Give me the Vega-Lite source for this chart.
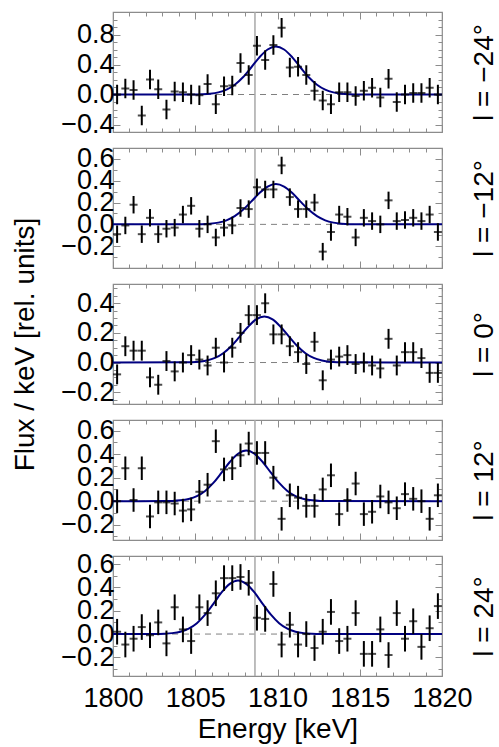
{
  "$schema": "https://vega.github.io/schema/vega-lite/v6.json",
  "padding": {"left": 11, "top": 10, "right": 5, "bottom": 0},
  "background": "white",
  "config": {
    "view": {"stroke": "#8c8c8c", "strokeWidth": 1.2},
    "axis": {"grid": false, "domain": false, "labelFont": "Liberation Sans", "labelFontSize": 27, "labelColor": "black", "titleFont": "Liberation Sans", "titleFontSize": 28, "titleFontWeight": "normal", "titleColor": "black", "tickColor": "#8c8c8c", "tickWidth": 1, "labelPadding": 6, "labelOverlap": false, "labelFlush": false}
  },
  "datasets": {
    "pts": [
      {"p":1,"e":1800.25,"v":0.0,"s":0.13},{"p":1,"e":1800.75,"v":0.08,"s":0.13},{"p":1,"e":1801.25,"v":0.06,"s":0.13},{"p":1,"e":1801.75,"v":-0.28,"s":0.13},{"p":1,"e":1802.25,"v":0.2,"s":0.13},{"p":1,"e":1802.75,"v":0.07,"s":0.13},{"p":1,"e":1803.25,"v":-0.2,"s":0.13},{"p":1,"e":1803.75,"v":0.04,"s":0.13},{"p":1,"e":1804.25,"v":0.03,"s":0.13},{"p":1,"e":1804.75,"v":0.0,"s":0.13},
      {"p":1,"e":1805.25,"v":-0.01,"s":0.13},{"p":1,"e":1805.75,"v":0.14,"s":0.13},{"p":1,"e":1806.25,"v":-0.13,"s":0.13},{"p":1,"e":1806.75,"v":0.11,"s":0.13},{"p":1,"e":1807.25,"v":0.12,"s":0.13},{"p":1,"e":1807.75,"v":0.42,"s":0.13},{"p":1,"e":1808.25,"v":0.26,"s":0.13},{"p":1,"e":1808.75,"v":0.65,"s":0.13},{"p":1,"e":1809.25,"v":0.46,"s":0.13},{"p":1,"e":1809.75,"v":0.66,"s":0.13},
      {"p":1,"e":1810.25,"v":0.89,"s":0.13},{"p":1,"e":1810.75,"v":0.36,"s":0.13},{"p":1,"e":1811.25,"v":0.37,"s":0.13},{"p":1,"e":1811.75,"v":0.26,"s":0.13},{"p":1,"e":1812.25,"v":0.05,"s":0.13},{"p":1,"e":1812.75,"v":-0.08,"s":0.13},{"p":1,"e":1813.25,"v":-0.13,"s":0.13},{"p":1,"e":1813.75,"v":0.03,"s":0.13},{"p":1,"e":1814.25,"v":0.03,"s":0.13},{"p":1,"e":1814.75,"v":-0.02,"s":0.13},
      {"p":1,"e":1815.25,"v":0.05,"s":0.13},{"p":1,"e":1815.75,"v":0.09,"s":0.13},{"p":1,"e":1816.25,"v":-0.04,"s":0.13},{"p":1,"e":1816.75,"v":0.21,"s":0.13},{"p":1,"e":1817.25,"v":-0.1,"s":0.13},{"p":1,"e":1817.75,"v":0.0,"s":0.13},{"p":1,"e":1818.25,"v":0.02,"s":0.13},{"p":1,"e":1818.75,"v":0.02,"s":0.13},{"p":1,"e":1819.25,"v":0.09,"s":0.13},{"p":1,"e":1819.75,"v":0.0,"s":0.13},

      {"p":2,"e":1800.25,"v":-0.09,"s":0.08},{"p":2,"e":1800.75,"v":-0.01,"s":0.08},{"p":2,"e":1801.25,"v":0.18,"s":0.08},{"p":2,"e":1801.75,"v":-0.09,"s":0.08},{"p":2,"e":1802.25,"v":0.06,"s":0.08},{"p":2,"e":1802.75,"v":-0.09,"s":0.08},{"p":2,"e":1803.25,"v":-0.04,"s":0.08},{"p":2,"e":1803.75,"v":-0.03,"s":0.08},{"p":2,"e":1804.25,"v":0.09,"s":0.08},{"p":2,"e":1804.75,"v":0.17,"s":0.08},
      {"p":2,"e":1805.25,"v":-0.04,"s":0.08},{"p":2,"e":1805.75,"v":0.0,"s":0.08},{"p":2,"e":1806.25,"v":-0.12,"s":0.08},{"p":2,"e":1806.75,"v":-0.03,"s":0.08},{"p":2,"e":1807.25,"v":-0.01,"s":0.08},{"p":2,"e":1807.75,"v":0.15,"s":0.08},{"p":2,"e":1808.25,"v":0.14,"s":0.08},{"p":2,"e":1808.75,"v":0.34,"s":0.08},{"p":2,"e":1809.25,"v":0.32,"s":0.08},{"p":2,"e":1809.75,"v":0.32,"s":0.08},
      {"p":2,"e":1810.25,"v":0.54,"s":0.08},{"p":2,"e":1810.75,"v":0.25,"s":0.08},{"p":2,"e":1811.25,"v":0.14,"s":0.08},{"p":2,"e":1811.75,"v":0.14,"s":0.08},{"p":2,"e":1812.25,"v":0.2,"s":0.08},{"p":2,"e":1812.75,"v":-0.25,"s":0.08},{"p":2,"e":1813.25,"v":-0.07,"s":0.08},{"p":2,"e":1813.75,"v":0.09,"s":0.08},{"p":2,"e":1814.25,"v":0.07,"s":0.08},{"p":2,"e":1814.75,"v":-0.12,"s":0.08},
      {"p":2,"e":1815.25,"v":0.06,"s":0.08},{"p":2,"e":1815.75,"v":0.03,"s":0.08},{"p":2,"e":1816.25,"v":0.0,"s":0.08},{"p":2,"e":1816.75,"v":0.22,"s":0.08},{"p":2,"e":1817.25,"v":0.03,"s":0.08},{"p":2,"e":1817.75,"v":0.04,"s":0.08},{"p":2,"e":1818.25,"v":0.06,"s":0.08},{"p":2,"e":1818.75,"v":0.03,"s":0.08},{"p":2,"e":1819.25,"v":0.09,"s":0.08},{"p":2,"e":1819.75,"v":-0.07,"s":0.08},

      {"p":3,"e":1800.25,"v":-0.08,"s":0.067},{"p":3,"e":1800.75,"v":0.11,"s":0.067},{"p":3,"e":1801.25,"v":0.08,"s":0.067},{"p":3,"e":1801.75,"v":0.08,"s":0.067},{"p":3,"e":1802.25,"v":-0.1,"s":0.067},{"p":3,"e":1802.75,"v":-0.15,"s":0.067},{"p":3,"e":1803.25,"v":0.01,"s":0.067},{"p":3,"e":1803.75,"v":-0.06,"s":0.067},{"p":3,"e":1804.25,"v":0.0,"s":0.067},{"p":3,"e":1804.75,"v":0.05,"s":0.067},
      {"p":3,"e":1805.25,"v":0.02,"s":0.067},{"p":3,"e":1805.75,"v":-0.02,"s":0.067},{"p":3,"e":1806.25,"v":0.1,"s":0.067},{"p":3,"e":1806.75,"v":0.0,"s":0.067},{"p":3,"e":1807.25,"v":0.1,"s":0.067},{"p":3,"e":1807.75,"v":0.2,"s":0.067},{"p":3,"e":1808.25,"v":0.32,"s":0.067},{"p":3,"e":1808.75,"v":0.32,"s":0.067},{"p":3,"e":1809.25,"v":0.4,"s":0.067},{"p":3,"e":1809.75,"v":0.19,"s":0.067},
      {"p":3,"e":1810.25,"v":0.19,"s":0.067},{"p":3,"e":1810.75,"v":0.11,"s":0.067},{"p":3,"e":1811.25,"v":0.07,"s":0.067},{"p":3,"e":1811.75,"v":-0.01,"s":0.067},{"p":3,"e":1812.25,"v":0.14,"s":0.067},{"p":3,"e":1812.75,"v":-0.12,"s":0.067},{"p":3,"e":1813.25,"v":0.02,"s":0.067},{"p":3,"e":1813.75,"v":0.04,"s":0.067},{"p":3,"e":1814.25,"v":0.05,"s":0.067},{"p":3,"e":1814.75,"v":-0.01,"s":0.067},
      {"p":3,"e":1815.25,"v":0.0,"s":0.067},{"p":3,"e":1815.75,"v":-0.02,"s":0.067},{"p":3,"e":1816.25,"v":-0.04,"s":0.067},{"p":3,"e":1816.75,"v":0.16,"s":0.067},{"p":3,"e":1817.25,"v":-0.02,"s":0.067},{"p":3,"e":1817.75,"v":0.07,"s":0.067},{"p":3,"e":1818.25,"v":0.07,"s":0.067},{"p":3,"e":1818.75,"v":0.03,"s":0.067},{"p":3,"e":1819.25,"v":-0.07,"s":0.067},{"p":3,"e":1819.75,"v":-0.07,"s":0.067},

      {"p":4,"e":1800.25,"v":0.0,"s":0.1},{"p":4,"e":1800.75,"v":0.28,"s":0.1},{"p":4,"e":1801.25,"v":0.01,"s":0.1},{"p":4,"e":1801.75,"v":0.28,"s":0.1},{"p":4,"e":1802.25,"v":-0.13,"s":0.1},{"p":4,"e":1802.75,"v":-0.01,"s":0.1},{"p":4,"e":1803.25,"v":-0.01,"s":0.1},{"p":4,"e":1803.75,"v":-0.02,"s":0.1},{"p":4,"e":1804.25,"v":-0.08,"s":0.1},{"p":4,"e":1804.75,"v":-0.07,"s":0.1},
      {"p":4,"e":1805.25,"v":0.08,"s":0.1},{"p":4,"e":1805.75,"v":0.14,"s":0.1},{"p":4,"e":1806.25,"v":0.51,"s":0.1},{"p":4,"e":1806.75,"v":0.27,"s":0.1},{"p":4,"e":1807.25,"v":0.28,"s":0.1},{"p":4,"e":1807.75,"v":0.39,"s":0.1},{"p":4,"e":1808.25,"v":0.49,"s":0.1},{"p":4,"e":1808.75,"v":0.41,"s":0.1},{"p":4,"e":1809.25,"v":0.41,"s":0.1},{"p":4,"e":1809.75,"v":0.2,"s":0.1},
      {"p":4,"e":1810.25,"v":-0.15,"s":0.1},{"p":4,"e":1810.75,"v":0.05,"s":0.1},{"p":4,"e":1811.25,"v":0.03,"s":0.1},{"p":4,"e":1811.75,"v":-0.04,"s":0.1},{"p":4,"e":1812.25,"v":-0.04,"s":0.1},{"p":4,"e":1812.75,"v":0.1,"s":0.1},{"p":4,"e":1813.25,"v":0.22,"s":0.1},{"p":4,"e":1813.75,"v":-0.11,"s":0.1},{"p":4,"e":1814.25,"v":0.01,"s":0.1},{"p":4,"e":1814.75,"v":0.15,"s":0.1},
      {"p":4,"e":1815.25,"v":-0.11,"s":0.1},{"p":4,"e":1815.75,"v":-0.09,"s":0.1},{"p":4,"e":1816.25,"v":0.04,"s":0.1},{"p":4,"e":1816.75,"v":-0.01,"s":0.1},{"p":4,"e":1817.25,"v":-0.06,"s":0.1},{"p":4,"e":1817.75,"v":0.06,"s":0.1},{"p":4,"e":1818.25,"v":0.02,"s":0.1},{"p":4,"e":1818.75,"v":0.0,"s":0.1},{"p":4,"e":1819.25,"v":-0.15,"s":0.1},{"p":4,"e":1819.75,"v":0.05,"s":0.1},

      {"p":5,"e":1800.25,"v":0.02,"s":0.11},{"p":5,"e":1800.75,"v":-0.09,"s":0.11},{"p":5,"e":1801.25,"v":-0.04,"s":0.11},{"p":5,"e":1801.75,"v":0.06,"s":0.11},{"p":5,"e":1802.25,"v":-0.01,"s":0.11},{"p":5,"e":1802.75,"v":0.1,"s":0.11},{"p":5,"e":1803.25,"v":-0.08,"s":0.11},{"p":5,"e":1803.75,"v":0.23,"s":0.11},{"p":5,"e":1804.25,"v":0.04,"s":0.11},{"p":5,"e":1804.75,"v":-0.06,"s":0.11},
      {"p":5,"e":1805.25,"v":0.23,"s":0.11},{"p":5,"e":1805.75,"v":0.18,"s":0.11},{"p":5,"e":1806.25,"v":0.35,"s":0.11},{"p":5,"e":1806.75,"v":0.48,"s":0.11},{"p":5,"e":1807.25,"v":0.48,"s":0.11},{"p":5,"e":1807.75,"v":0.49,"s":0.11},{"p":5,"e":1808.25,"v":0.44,"s":0.11},{"p":5,"e":1808.75,"v":0.14,"s":0.11},{"p":5,"e":1809.25,"v":0.13,"s":0.11},{"p":5,"e":1809.75,"v":0.43,"s":0.11},
      {"p":5,"e":1810.25,"v":-0.09,"s":0.11},{"p":5,"e":1810.75,"v":0.08,"s":0.11},{"p":5,"e":1811.25,"v":-0.09,"s":0.11},{"p":5,"e":1811.75,"v":0.0,"s":0.11},{"p":5,"e":1812.25,"v":-0.12,"s":0.11},{"p":5,"e":1812.75,"v":0.02,"s":0.11},{"p":5,"e":1813.25,"v":0.19,"s":0.11},{"p":5,"e":1813.75,"v":-0.06,"s":0.11},{"p":5,"e":1814.25,"v":-0.04,"s":0.11},{"p":5,"e":1814.75,"v":0.18,"s":0.11},
      {"p":5,"e":1815.25,"v":-0.17,"s":0.11},{"p":5,"e":1815.75,"v":-0.17,"s":0.11},{"p":5,"e":1816.25,"v":0.04,"s":0.11},{"p":5,"e":1816.75,"v":-0.18,"s":0.11},{"p":5,"e":1817.25,"v":0.18,"s":0.11},{"p":5,"e":1817.75,"v":-0.04,"s":0.11},{"p":5,"e":1818.25,"v":0.11,"s":0.11},{"p":5,"e":1818.75,"v":-0.11,"s":0.11},{"p":5,"e":1819.25,"v":0.05,"s":0.11},{"p":5,"e":1819.75,"v":0.24,"s":0.11}
    ],
    "fit": [
      {"p":1,"e":1800,"f":0},{"p":1,"e":1804.9,"f":0.001},{"p":1,"e":1805.4,"f":0.004},{"p":1,"e":1805.9,"f":0.011},{"p":1,"e":1806.4,"f":0.028},{"p":1,"e":1806.9,"f":0.064},{"p":1,"e":1807.4,"f":0.13},{"p":1,"e":1807.9,"f":0.23},{"p":1,"e":1808.4,"f":0.36},{"p":1,"e":1808.9,"f":0.496},{"p":1,"e":1809.4,"f":0.6},{"p":1,"e":1809.9,"f":0.64},{"p":1,"e":1810.4,"f":0.6},{"p":1,"e":1810.9,"f":0.496},{"p":1,"e":1811.4,"f":0.36},{"p":1,"e":1811.9,"f":0.23},{"p":1,"e":1812.4,"f":0.13},{"p":1,"e":1812.9,"f":0.064},{"p":1,"e":1813.4,"f":0.028},{"p":1,"e":1813.9,"f":0.011},{"p":1,"e":1814.4,"f":0.004},{"p":1,"e":1814.9,"f":0.001},{"p":1,"e":1820,"f":0},
      {"p":2,"e":1800,"f":0},{"p":2,"e":1804.9,"f":0.001},{"p":2,"e":1805.4,"f":0.002},{"p":2,"e":1805.9,"f":0.006},{"p":2,"e":1806.4,"f":0.016},{"p":2,"e":1806.9,"f":0.037},{"p":2,"e":1807.4,"f":0.075},{"p":2,"e":1807.9,"f":0.133},{"p":2,"e":1808.4,"f":0.208},{"p":2,"e":1808.9,"f":0.287},{"p":2,"e":1809.4,"f":0.347},{"p":2,"e":1809.9,"f":0.37},{"p":2,"e":1810.4,"f":0.347},{"p":2,"e":1810.9,"f":0.287},{"p":2,"e":1811.4,"f":0.208},{"p":2,"e":1811.9,"f":0.133},{"p":2,"e":1812.4,"f":0.075},{"p":2,"e":1812.9,"f":0.037},{"p":2,"e":1813.4,"f":0.016},{"p":2,"e":1813.9,"f":0.006},{"p":2,"e":1814.4,"f":0.002},{"p":2,"e":1814.9,"f":0.001},{"p":2,"e":1820,"f":0},
      {"p":3,"e":1800,"f":0},{"p":3,"e":1804.2,"f":0.001},{"p":3,"e":1804.7,"f":0.002},{"p":3,"e":1805.2,"f":0.005},{"p":3,"e":1805.7,"f":0.014},{"p":3,"e":1806.2,"f":0.031},{"p":3,"e":1806.7,"f":0.063},{"p":3,"e":1807.2,"f":0.112},{"p":3,"e":1807.7,"f":0.175},{"p":3,"e":1808.2,"f":0.24},{"p":3,"e":1808.7,"f":0.291},{"p":3,"e":1809.2,"f":0.31},{"p":3,"e":1809.7,"f":0.291},{"p":3,"e":1810.2,"f":0.24},{"p":3,"e":1810.7,"f":0.175},{"p":3,"e":1811.2,"f":0.112},{"p":3,"e":1811.7,"f":0.063},{"p":3,"e":1812.2,"f":0.031},{"p":3,"e":1812.7,"f":0.014},{"p":3,"e":1813.2,"f":0.005},{"p":3,"e":1813.7,"f":0.002},{"p":3,"e":1814.2,"f":0.001},{"p":3,"e":1820,"f":0},
      {"p":4,"e":1800,"f":0},{"p":4,"e":1803.1,"f":0.001},{"p":4,"e":1803.6,"f":0.002},{"p":4,"e":1804.1,"f":0.007},{"p":4,"e":1804.6,"f":0.019},{"p":4,"e":1805.1,"f":0.043},{"p":4,"e":1805.6,"f":0.087},{"p":4,"e":1806.1,"f":0.155},{"p":4,"e":1806.6,"f":0.242},{"p":4,"e":1807.1,"f":0.333},{"p":4,"e":1807.6,"f":0.403},{"p":4,"e":1808.1,"f":0.43},{"p":4,"e":1808.6,"f":0.403},{"p":4,"e":1809.1,"f":0.333},{"p":4,"e":1809.6,"f":0.242},{"p":4,"e":1810.1,"f":0.155},{"p":4,"e":1810.6,"f":0.087},{"p":4,"e":1811.1,"f":0.043},{"p":4,"e":1811.6,"f":0.019},{"p":4,"e":1812.1,"f":0.007},{"p":4,"e":1812.6,"f":0.002},{"p":4,"e":1813.1,"f":0.001},{"p":4,"e":1820,"f":0},
      {"p":5,"e":1800,"f":0},{"p":5,"e":1802.6,"f":0.001},{"p":5,"e":1803.1,"f":0.003},{"p":5,"e":1803.6,"f":0.008},{"p":5,"e":1804.1,"f":0.02},{"p":5,"e":1804.6,"f":0.046},{"p":5,"e":1805.1,"f":0.093},{"p":5,"e":1805.6,"f":0.166},{"p":5,"e":1806.1,"f":0.259},{"p":5,"e":1806.6,"f":0.357},{"p":5,"e":1807.1,"f":0.431},{"p":5,"e":1807.6,"f":0.46},{"p":5,"e":1808.1,"f":0.431},{"p":5,"e":1808.6,"f":0.357},{"p":5,"e":1809.1,"f":0.259},{"p":5,"e":1809.6,"f":0.166},{"p":5,"e":1810.1,"f":0.093},{"p":5,"e":1810.6,"f":0.046},{"p":5,"e":1811.1,"f":0.02},{"p":5,"e":1811.6,"f":0.008},{"p":5,"e":1812.1,"f":0.003},{"p":5,"e":1812.6,"f":0.001},{"p":5,"e":1820,"f":0}
    ]
  },
  "spacing": 16,
  "bounds": "flush",
  "vconcat": [
    {
      "width": 329, "height": 120,
      "layer": [
        {"data": {"values": [{}]}, "mark": {"type": "rule", "color": "#808080", "strokeDash": [6, 5], "strokeWidth": 1}, "encoding": {"y": {"datum": 0, "type": "quantitative", "scale": {"domain": [-0.5, 1.1], "nice": false, "zero": false}, "axis": null}}},
        {"data": {"values": [{}]}, "mark": {"type": "rule", "color": "#a8a8a8", "strokeWidth": 1.5}, "encoding": {"x": {"datum": 1808.63, "type": "quantitative", "scale": {"domain": [1800, 1820], "nice": false}, "axis": null}}},
        {"data": {"name": "fit"}, "transform": [{"filter": "datum.p == 1"}], "mark": {"type": "line", "color": "#000080", "strokeWidth": 2, "interpolate": "monotone"},
         "encoding": {"x": {"field": "e", "type": "quantitative", "scale": {"domain": [1800, 1820], "nice": false}, "axis": {"orient": "bottom", "values": [1801,1802,1803,1804,1806,1807,1808,1809,1811,1812,1813,1814,1816,1817,1818,1819], "labels": false, "tickSize": -4, "title": null}},
                      "y": {"field": "f", "type": "quantitative", "scale": {"domain": [-0.5, 1.1], "nice": false, "zero": false}, "axis": {"orient": "left", "values": [-0.3,-0.2,-0.1,0.1,0.2,0.3,0.5,0.6,0.7,0.9,1.0], "labels": false, "tickSize": -4, "title": null}}}},
        {"data": {"name": "pts"}, "transform": [{"filter": "datum.p == 1"}], "mark": {"type": "errorbar", "color": "black", "thickness": 2},
         "encoding": {"x": {"field": "e", "type": "quantitative", "scale": {"domain": [1800, 1820], "nice": false}, "axis": {"orient": "bottom", "values": [1800,1805,1810,1815,1820], "labels": false, "tickSize": -7, "title": null}},
                      "y": {"field": "v", "type": "quantitative", "scale": {"domain": [-0.5, 1.1], "nice": false, "zero": false}, "axis": {"orient": "left", "values": [-0.4,0,0.4,0.8], "format": ".1f", "tickSize": -7, "title": null}},
                      "yError": {"field": "s"}}},
        {"data": {"name": "pts"}, "transform": [{"filter": "datum.p == 1"}], "mark": {"type": "tick", "orient": "horizontal", "size": 8, "thickness": 2, "color": "black"},
         "encoding": {"x": {"field": "e", "type": "quantitative", "scale": {"domain": [1800, 1820], "nice": false}, "axis": {"orient": "top", "values": [1800,1805,1810,1815,1820], "labels": false, "tickSize": -7, "title": null}},
                      "y": {"field": "v", "type": "quantitative", "scale": {"domain": [-0.5, 1.1], "nice": false, "zero": false}, "axis": {"orient": "right", "values": [-0.4,0,0.4,0.8], "labels": false, "tickSize": -7, "title": "l = −24°", "titleAngle": 270, "titlePadding": 56}}}},
        {"data": {"name": "pts"}, "transform": [{"filter": "datum.p == 1"}], "mark": {"type": "point", "opacity": 0},
         "encoding": {"x": {"field": "e", "type": "quantitative", "scale": {"domain": [1800, 1820], "nice": false}, "axis": {"orient": "top", "values": [1801,1802,1803,1804,1806,1807,1808,1809,1811,1812,1813,1814,1816,1817,1818,1819], "labels": false, "tickSize": -4, "title": null}},
                      "y": {"field": "v", "type": "quantitative", "scale": {"domain": [-0.5, 1.1], "nice": false, "zero": false}, "axis": {"orient": "right", "values": [-0.3,-0.2,-0.1,0.1,0.2,0.3,0.5,0.6,0.7,0.9,1.0], "labels": false, "tickSize": -4, "title": null}}}}
      ],
      "resolve": {"axis": {"x": "independent", "y": "independent"}}
    },
    {
      "width": 329, "height": 120,
      "layer": [
        {"data": {"values": [{}]}, "mark": {"type": "rule", "color": "#808080", "strokeDash": [6, 5], "strokeWidth": 1}, "encoding": {"y": {"datum": 0, "type": "quantitative", "scale": {"domain": [-0.4, 0.7], "nice": false, "zero": false}, "axis": null}}},
        {"data": {"values": [{}]}, "mark": {"type": "rule", "color": "#a8a8a8", "strokeWidth": 1.5}, "encoding": {"x": {"datum": 1808.63, "type": "quantitative", "scale": {"domain": [1800, 1820], "nice": false}, "axis": null}}},
        {"data": {"name": "fit"}, "transform": [{"filter": "datum.p == 2"}], "mark": {"type": "line", "color": "#000080", "strokeWidth": 2, "interpolate": "monotone"},
         "encoding": {"x": {"field": "e", "type": "quantitative", "scale": {"domain": [1800, 1820], "nice": false}, "axis": {"orient": "bottom", "values": [1801,1802,1803,1804,1806,1807,1808,1809,1811,1812,1813,1814,1816,1817,1818,1819], "labels": false, "tickSize": -4, "title": null}},
                      "y": {"field": "f", "type": "quantitative", "scale": {"domain": [-0.4, 0.7], "nice": false, "zero": false}, "axis": {"orient": "left", "values": [-0.3,-0.1,0.1,0.3,0.5], "labels": false, "tickSize": -4, "title": null}}}},
        {"data": {"name": "pts"}, "transform": [{"filter": "datum.p == 2"}], "mark": {"type": "errorbar", "color": "black", "thickness": 2},
         "encoding": {"x": {"field": "e", "type": "quantitative", "scale": {"domain": [1800, 1820], "nice": false}, "axis": {"orient": "bottom", "values": [1800,1805,1810,1815,1820], "labels": false, "tickSize": -7, "title": null}},
                      "y": {"field": "v", "type": "quantitative", "scale": {"domain": [-0.4, 0.7], "nice": false, "zero": false}, "axis": {"orient": "left", "values": [-0.2,0,0.2,0.4,0.6], "format": ".1f", "tickSize": -7, "title": null}},
                      "yError": {"field": "s"}}},
        {"data": {"name": "pts"}, "transform": [{"filter": "datum.p == 2"}], "mark": {"type": "tick", "orient": "horizontal", "size": 8, "thickness": 2, "color": "black"},
         "encoding": {"x": {"field": "e", "type": "quantitative", "scale": {"domain": [1800, 1820], "nice": false}, "axis": {"orient": "top", "values": [1800,1805,1810,1815,1820], "labels": false, "tickSize": -7, "title": null}},
                      "y": {"field": "v", "type": "quantitative", "scale": {"domain": [-0.4, 0.7], "nice": false, "zero": false}, "axis": {"orient": "right", "values": [-0.2,0,0.2,0.4,0.6], "labels": false, "tickSize": -7, "title": "l = −12°", "titleAngle": 270, "titlePadding": 56}}}},
        {"data": {"name": "pts"}, "transform": [{"filter": "datum.p == 2"}], "mark": {"type": "point", "opacity": 0},
         "encoding": {"x": {"field": "e", "type": "quantitative", "scale": {"domain": [1800, 1820], "nice": false}, "axis": {"orient": "top", "values": [1801,1802,1803,1804,1806,1807,1808,1809,1811,1812,1813,1814,1816,1817,1818,1819], "labels": false, "tickSize": -4, "title": null}},
                      "y": {"field": "v", "type": "quantitative", "scale": {"domain": [-0.4, 0.7], "nice": false, "zero": false}, "axis": {"orient": "right", "values": [-0.3,-0.1,0.1,0.3,0.5], "labels": false, "tickSize": -4, "title": null}}}}
      ],
      "resolve": {"axis": {"x": "independent", "y": "independent"}}
    },
    {
      "width": 329, "height": 120,
      "layer": [
        {"data": {"values": [{}]}, "mark": {"type": "rule", "color": "#808080", "strokeDash": [6, 5], "strokeWidth": 1}, "encoding": {"y": {"datum": 0, "type": "quantitative", "scale": {"domain": [-0.28, 0.53], "nice": false, "zero": false}, "axis": null}}},
        {"data": {"values": [{}]}, "mark": {"type": "rule", "color": "#a8a8a8", "strokeWidth": 1.5}, "encoding": {"x": {"datum": 1808.63, "type": "quantitative", "scale": {"domain": [1800, 1820], "nice": false}, "axis": null}}},
        {"data": {"name": "fit"}, "transform": [{"filter": "datum.p == 3"}], "mark": {"type": "line", "color": "#000080", "strokeWidth": 2, "interpolate": "monotone"},
         "encoding": {"x": {"field": "e", "type": "quantitative", "scale": {"domain": [1800, 1820], "nice": false}, "axis": {"orient": "bottom", "values": [1801,1802,1803,1804,1806,1807,1808,1809,1811,1812,1813,1814,1816,1817,1818,1819], "labels": false, "tickSize": -4, "title": null}},
                      "y": {"field": "f", "type": "quantitative", "scale": {"domain": [-0.28, 0.53], "nice": false, "zero": false}, "axis": {"orient": "left", "values": [-0.25,-0.15,-0.1,-0.05,0.05,0.1,0.15,0.25,0.3,0.35,0.45,0.5], "labels": false, "tickSize": -4, "title": null}}}},
        {"data": {"name": "pts"}, "transform": [{"filter": "datum.p == 3"}], "mark": {"type": "errorbar", "color": "black", "thickness": 2},
         "encoding": {"x": {"field": "e", "type": "quantitative", "scale": {"domain": [1800, 1820], "nice": false}, "axis": {"orient": "bottom", "values": [1800,1805,1810,1815,1820], "labels": false, "tickSize": -7, "title": null}},
                      "y": {"field": "v", "type": "quantitative", "scale": {"domain": [-0.28, 0.53], "nice": false, "zero": false}, "axis": {"orient": "left", "values": [-0.2,0,0.2,0.4], "format": ".1f", "tickSize": -7, "title": "Flux / keV [rel. units]", "titlePadding": 21}},
                      "yError": {"field": "s"}}},
        {"data": {"name": "pts"}, "transform": [{"filter": "datum.p == 3"}], "mark": {"type": "tick", "orient": "horizontal", "size": 8, "thickness": 2, "color": "black"},
         "encoding": {"x": {"field": "e", "type": "quantitative", "scale": {"domain": [1800, 1820], "nice": false}, "axis": {"orient": "top", "values": [1800,1805,1810,1815,1820], "labels": false, "tickSize": -7, "title": null}},
                      "y": {"field": "v", "type": "quantitative", "scale": {"domain": [-0.28, 0.53], "nice": false, "zero": false}, "axis": {"orient": "right", "values": [-0.2,0,0.2,0.4], "labels": false, "tickSize": -7, "title": "l = 0°", "titleAngle": 270, "titlePadding": 56}}}},
        {"data": {"name": "pts"}, "transform": [{"filter": "datum.p == 3"}], "mark": {"type": "point", "opacity": 0},
         "encoding": {"x": {"field": "e", "type": "quantitative", "scale": {"domain": [1800, 1820], "nice": false}, "axis": {"orient": "top", "values": [1801,1802,1803,1804,1806,1807,1808,1809,1811,1812,1813,1814,1816,1817,1818,1819], "labels": false, "tickSize": -4, "title": null}},
                      "y": {"field": "v", "type": "quantitative", "scale": {"domain": [-0.28, 0.53], "nice": false, "zero": false}, "axis": {"orient": "right", "values": [-0.25,-0.15,-0.1,-0.05,0.05,0.1,0.15,0.25,0.3,0.35,0.45,0.5], "labels": false, "tickSize": -4, "title": null}}}}
      ],
      "resolve": {"axis": {"x": "independent", "y": "independent"}}
    },
    {
      "width": 329, "height": 120,
      "layer": [
        {"data": {"values": [{}]}, "mark": {"type": "rule", "color": "#808080", "strokeDash": [6, 5], "strokeWidth": 1}, "encoding": {"y": {"datum": 0, "type": "quantitative", "scale": {"domain": [-0.33, 0.69], "nice": false, "zero": false}, "axis": null}}},
        {"data": {"values": [{}]}, "mark": {"type": "rule", "color": "#a8a8a8", "strokeWidth": 1.5}, "encoding": {"x": {"datum": 1808.63, "type": "quantitative", "scale": {"domain": [1800, 1820], "nice": false}, "axis": null}}},
        {"data": {"name": "fit"}, "transform": [{"filter": "datum.p == 4"}], "mark": {"type": "line", "color": "#000080", "strokeWidth": 2, "interpolate": "monotone"},
         "encoding": {"x": {"field": "e", "type": "quantitative", "scale": {"domain": [1800, 1820], "nice": false}, "axis": {"orient": "bottom", "values": [1801,1802,1803,1804,1806,1807,1808,1809,1811,1812,1813,1814,1816,1817,1818,1819], "labels": false, "tickSize": -4, "title": null}},
                      "y": {"field": "f", "type": "quantitative", "scale": {"domain": [-0.33, 0.69], "nice": false, "zero": false}, "axis": {"orient": "left", "values": [-0.3,-0.1,0.1,0.3,0.5], "labels": false, "tickSize": -4, "title": null}}}},
        {"data": {"name": "pts"}, "transform": [{"filter": "datum.p == 4"}], "mark": {"type": "errorbar", "color": "black", "thickness": 2},
         "encoding": {"x": {"field": "e", "type": "quantitative", "scale": {"domain": [1800, 1820], "nice": false}, "axis": {"orient": "bottom", "values": [1800,1805,1810,1815,1820], "labels": false, "tickSize": -7, "title": null}},
                      "y": {"field": "v", "type": "quantitative", "scale": {"domain": [-0.33, 0.69], "nice": false, "zero": false}, "axis": {"orient": "left", "values": [-0.2,0,0.2,0.4,0.6], "format": ".1f", "tickSize": -7, "title": null}},
                      "yError": {"field": "s"}}},
        {"data": {"name": "pts"}, "transform": [{"filter": "datum.p == 4"}], "mark": {"type": "tick", "orient": "horizontal", "size": 8, "thickness": 2, "color": "black"},
         "encoding": {"x": {"field": "e", "type": "quantitative", "scale": {"domain": [1800, 1820], "nice": false}, "axis": {"orient": "top", "values": [1800,1805,1810,1815,1820], "labels": false, "tickSize": -7, "title": null}},
                      "y": {"field": "v", "type": "quantitative", "scale": {"domain": [-0.33, 0.69], "nice": false, "zero": false}, "axis": {"orient": "right", "values": [-0.2,0,0.2,0.4,0.6], "labels": false, "tickSize": -7, "title": "l = 12°", "titleAngle": 270, "titlePadding": 56}}}},
        {"data": {"name": "pts"}, "transform": [{"filter": "datum.p == 4"}], "mark": {"type": "point", "opacity": 0},
         "encoding": {"x": {"field": "e", "type": "quantitative", "scale": {"domain": [1800, 1820], "nice": false}, "axis": {"orient": "top", "values": [1801,1802,1803,1804,1806,1807,1808,1809,1811,1812,1813,1814,1816,1817,1818,1819], "labels": false, "tickSize": -4, "title": null}},
                      "y": {"field": "v", "type": "quantitative", "scale": {"domain": [-0.33, 0.69], "nice": false, "zero": false}, "axis": {"orient": "right", "values": [-0.3,-0.1,0.1,0.3,0.5], "labels": false, "tickSize": -4, "title": null}}}}
      ],
      "resolve": {"axis": {"x": "independent", "y": "independent"}}
    },
    {
      "width": 329, "height": 120,
      "layer": [
        {"data": {"values": [{}]}, "mark": {"type": "rule", "color": "#808080", "strokeDash": [6, 5], "strokeWidth": 1}, "encoding": {"y": {"datum": 0, "type": "quantitative", "scale": {"domain": [-0.36, 0.67], "nice": false, "zero": false}, "axis": null}}},
        {"data": {"values": [{}]}, "mark": {"type": "rule", "color": "#a8a8a8", "strokeWidth": 1.5}, "encoding": {"x": {"datum": 1808.63, "type": "quantitative", "scale": {"domain": [1800, 1820], "nice": false}, "axis": null}}},
        {"data": {"name": "fit"}, "transform": [{"filter": "datum.p == 5"}], "mark": {"type": "line", "color": "#000080", "strokeWidth": 2, "interpolate": "monotone"},
         "encoding": {"x": {"field": "e", "type": "quantitative", "scale": {"domain": [1800, 1820], "nice": false}, "axis": {"orient": "bottom", "values": [1801,1802,1803,1804,1806,1807,1808,1809,1811,1812,1813,1814,1816,1817,1818,1819], "labels": false, "tickSize": -4, "title": null}},
                      "y": {"field": "f", "type": "quantitative", "scale": {"domain": [-0.36, 0.67], "nice": false, "zero": false}, "axis": {"orient": "left", "values": [-0.3,-0.1,0.1,0.3,0.5], "labels": false, "tickSize": -4, "title": null}}}},
        {"data": {"name": "pts"}, "transform": [{"filter": "datum.p == 5"}], "mark": {"type": "errorbar", "color": "black", "thickness": 2},
         "encoding": {"x": {"field": "e", "type": "quantitative", "scale": {"domain": [1800, 1820], "nice": false}, "axis": {"orient": "bottom", "values": [1800,1805,1810,1815,1820], "labels": true, "format": "d", "tickSize": -7, "labelPadding": 16, "title": "Energy [keV]", "titlePadding": 4}},
                      "y": {"field": "v", "type": "quantitative", "scale": {"domain": [-0.36, 0.67], "nice": false, "zero": false}, "axis": {"orient": "left", "values": [-0.2,0,0.2,0.4,0.6], "format": ".1f", "tickSize": -7, "title": null}},
                      "yError": {"field": "s"}}},
        {"data": {"name": "pts"}, "transform": [{"filter": "datum.p == 5"}], "mark": {"type": "tick", "orient": "horizontal", "size": 8, "thickness": 2, "color": "black"},
         "encoding": {"x": {"field": "e", "type": "quantitative", "scale": {"domain": [1800, 1820], "nice": false}, "axis": {"orient": "top", "values": [1800,1805,1810,1815,1820], "labels": false, "tickSize": -7, "title": null}},
                      "y": {"field": "v", "type": "quantitative", "scale": {"domain": [-0.36, 0.67], "nice": false, "zero": false}, "axis": {"orient": "right", "values": [-0.2,0,0.2,0.4,0.6], "labels": false, "tickSize": -7, "title": "l = 24°", "titleAngle": 270, "titlePadding": 56}}}},
        {"data": {"name": "pts"}, "transform": [{"filter": "datum.p == 5"}], "mark": {"type": "point", "opacity": 0},
         "encoding": {"x": {"field": "e", "type": "quantitative", "scale": {"domain": [1800, 1820], "nice": false}, "axis": {"orient": "top", "values": [1801,1802,1803,1804,1806,1807,1808,1809,1811,1812,1813,1814,1816,1817,1818,1819], "labels": false, "tickSize": -4, "title": null}},
                      "y": {"field": "v", "type": "quantitative", "scale": {"domain": [-0.36, 0.67], "nice": false, "zero": false}, "axis": {"orient": "right", "values": [-0.3,-0.1,0.1,0.3,0.5], "labels": false, "tickSize": -4, "title": null}}}}
      ],
      "resolve": {"axis": {"x": "independent", "y": "independent"}}
    }
  ]
}
